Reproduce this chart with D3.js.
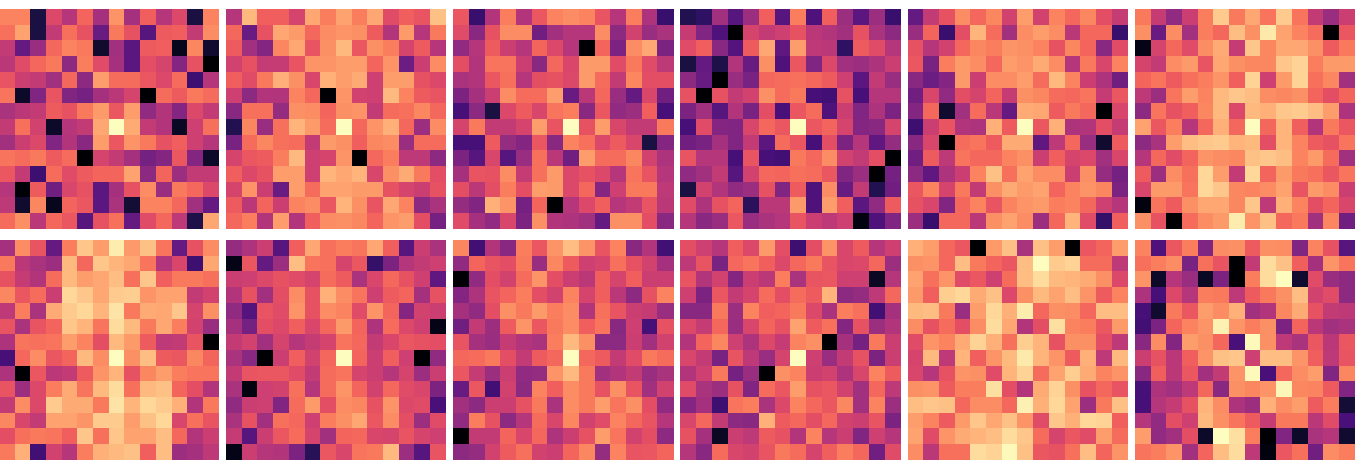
<!DOCTYPE html>
<html>
<head>
<meta charset="utf-8">
<script src="https://cdn.jsdelivr.net/npm/d3@7"></script>
<style>
    html, body { margin: 0; padding: 0; background: #fff; overflow: hidden; }
</style>
</head>
<body>
<script>
// cell values in percent of the colour range
var panel1 = [
    [72,72,10,57,47,65,43,76,43,64,47,57,10,72],
    [68,79,10,50,68,60,28,70,60,24,63,64,50,74],
    [50,27,40,66,72,70,7,42,25,63,64,4,73,7],
    [48,58,66,70,37,71,58,43,25,59,55,35,60,0],
    [61,52,50,42,66,37,78,67,67,62,57,67,18,47],
    [69,6,34,61,34,31,43,48,55,0,67,63,70,67],
    [44,48,50,63,60,70,77,62,78,38,46,35,57,50],
    [50,68,54,6,47,50,80,100,81,50,46,5,53,68],
    [42,52,57,34,46,36,78,62,76,70,60,64,53,47],
    [69,67,70,63,67,0,55,50,43,31,35,62,35,6],
    [62,50,18,67,58,63,65,65,79,37,65,41,50,50],
    [47,1,63,30,56,60,25,43,60,74,40,70,66,57],
    [49,7,73,4,65,62,25,44,8,72,72,66,42,27],
    [67,75,48,66,62,24,60,68,27,58,66,49,11,80]
];
var panel2 = [
    [47,84,64,64,55,80,71,79,71,80,58,64,61,86],
    [66,28,60,80,77,66,74,76,75,63,46,77,47,70],
    [63,42,35,73,80,61,75,84,62,75,71,55,63,47],
    [54,60,51,51,61,76,76,78,78,65,76,29,52,74],
    [64,58,70,82,75,56,82,78,81,53,78,78,60,57],
    [53,37,46,46,72,66,0,76,54,53,84,72,63,61],
    [36,68,68,39,75,74,65,75,76,50,67,68,73,66],
    [12,73,40,68,83,77,67,100,66,76,82,66,41,74],
    [32,67,73,68,67,50,77,75,64,73,74,40,67,67],
    [55,62,63,71,84,53,55,76,0,66,71,49,49,37],
    [64,57,60,78,78,53,83,80,83,56,75,81,70,59],
    [55,76,52,28,78,67,79,79,77,77,60,55,52,60],
    [63,48,65,52,72,74,62,83,75,61,80,72,37,44],
    [66,71,46,78,46,64,74,75,73,65,76,78,59,31]
];
var panel3 = [
    [62,17,46,71,46,62,72,74,72,61,47,71,45,17],
    [58,36,60,74,74,30,42,47,47,74,37,54,40,44],
    [38,47,63,52,47,65,57,47,0,65,33,74,80,33],
    [59,46,69,69,52,36,66,56,77,77,58,70,58,49],
    [44,46,62,68,47,59,60,57,77,67,50,73,59,59],
    [33,43,52,74,67,67,78,28,48,66,40,27,56,30],
    [20,37,10,57,63,56,69,71,36,62,38,41,64,20],
    [55,70,50,50,55,78,61,100,60,78,56,50,50,70],
    [20,20,63,39,35,62,36,72,68,57,63,56,10,35],
    [33,24,56,24,40,68,48,30,78,67,67,73,54,45],
    [43,61,60,74,51,68,77,57,60,57,47,69,61,47],
    [59,48,59,71,59,78,77,57,66,35,53,70,70,49],
    [39,34,82,76,31,65,0,47,57,64,47,50,61,48],
    [58,43,38,56,33,75,46,45,42,27,75,75,59,36]
];
var panel4 = [
    [12,15,42,24,41,64,24,71,22,64,41,25,41,17],
    [51,34,22,0,55,50,53,60,48,46,42,60,44,37],
    [58,64,36,23,63,80,26,78,49,48,15,63,58,47],
    [10,27,11,46,28,75,22,62,34,57,42,41,45,52],
    [37,28,0,40,32,66,67,68,66,63,53,25,50,40],
    [60,0,60,50,54,75,67,70,20,19,60,20,47,47],
    [33,42,24,46,32,59,21,62,67,22,52,34,45,33],
    [20,58,35,34,56,66,62,100,62,65,55,35,36,55],
    [30,32,43,34,50,25,67,62,20,59,33,47,26,39],
    [61,47,47,20,61,20,19,70,66,74,54,50,59,0],
    [38,42,50,24,54,66,65,68,67,62,34,41,0,31],
    [10,54,46,38,41,60,34,63,22,74,28,50,12,30],
    [58,45,60,65,14,48,48,77,22,78,64,25,38,63],
    [47,36,40,62,40,44,47,61,52,49,53,2,22,34]
];
var panel5 = [
    [27,50,60,74,66,73,54,78,54,72,66,73,59,51],
    [40,65,17,59,83,67,42,74,78,74,48,66,66,17],
    [60,47,54,66,73,71,76,75,72,60,73,65,36,58],
    [62,32,71,77,74,66,78,76,81,74,47,70,56,72],
    [36,29,35,77,52,74,74,78,67,84,72,52,45,30],
    [30,56,38,59,55,65,51,75,73,67,66,69,51,62],
    [35,66,7,42,67,48,27,81,80,63,70,66,0,56],
    [18,52,61,46,45,82,63,100,62,82,45,46,59,51],
    [36,56,0,67,69,63,81,81,26,49,66,40,7,63],
    [30,63,49,69,66,66,72,75,52,64,55,57,42,56],
    [37,26,45,52,72,86,68,79,74,74,52,75,39,31],
    [62,72,55,70,50,75,81,77,79,65,72,76,73,33],
    [60,56,34,66,72,61,72,76,77,71,72,66,53,47],
    [41,17,66,66,48,75,79,74,41,66,83,58,16,64]
];
var panel6 = [
    [70,51,38,52,71,88,70,80,69,88,69,50,40,52],
    [75,28,74,42,71,66,85,75,95,79,72,67,0,62],
    [3,55,66,58,74,81,51,87,73,80,80,75,63,70],
    [55,50,74,77,61,80,75,73,73,87,90,71,77,77],
    [65,69,63,68,71,76,64,90,53,77,90,68,73,42],
    [49,41,69,78,72,84,87,85,74,73,75,65,59,65],
    [37,69,60,64,73,84,57,84,82,87,88,85,78,45],
    [79,62,71,47,66,82,66,100,66,83,64,46,70,62],
    [37,44,78,85,87,88,83,84,59,83,72,63,60,69],
    [47,66,58,65,76,74,73,86,87,85,72,77,67,42],
    [63,41,74,68,91,78,50,91,65,77,70,68,62,69],
    [56,77,77,69,91,87,73,72,74,79,61,77,74,52],
    [2,69,63,75,80,80,73,87,49,82,72,59,65,56],
    [75,60,0,67,74,77,96,76,86,66,70,42,73,30]
];
var panel7 = [
    [43,74,61,27,71,87,78,96,77,86,69,27,60,74],
    [70,48,44,41,84,66,87,83,80,69,46,56,18,80],
    [60,51,46,67,84,78,80,85,68,87,64,70,70,68],
    [73,62,67,52,91,87,80,88,89,76,79,79,50,54],
    [49,71,44,81,88,91,83,94,70,81,80,87,55,75],
    [61,44,61,65,87,83,69,92,84,70,80,71,54,40],
    [45,69,68,69,78,72,59,84,77,63,49,50,61,0],
    [20,66,74,62,65,84,74,100,75,85,63,62,73,65],
    [45,0,62,48,50,63,76,83,60,73,78,71,69,69],
    [61,41,57,71,81,69,84,92,68,84,86,65,59,46],
    [50,74,57,88,81,81,70,94,83,91,88,82,46,70],
    [73,56,50,79,79,76,88,88,78,86,91,56,68,61],
    [59,68,70,69,64,87,68,87,79,79,85,66,46,52],
    [70,82,19,54,47,71,82,84,86,64,85,41,43,49]
];
var panel8 = [
    [39,45,52,24,64,80,68,71,69,80,64,24,52,44],
    [3,62,27,41,85,69,68,55,62,16,33,47,50,53],
    [52,53,57,60,58,55,67,63,44,56,66,60,53,26],
    [46,60,42,59,74,60,82,74,69,53,63,65,43,60],
    [38,23,61,58,76,60,74,72,58,76,65,35,54,52],
    [43,31,59,57,64,56,66,77,65,45,67,57,53,3],
    [50,54,42,55,47,51,55,69,66,50,56,62,60,59],
    [44,36,0,52,64,54,66,100,65,52,64,53,0,38],
    [50,61,62,62,58,50,67,69,55,52,47,55,41,52],
    [44,2,53,54,68,47,67,76,65,54,66,58,56,33],
    [38,52,53,34,67,77,59,74,73,60,76,57,58,21],
    [44,60,42,68,66,53,71,75,80,62,74,59,41,58],
    [51,24,52,62,67,55,42,65,66,56,55,61,55,53],
    [3,52,47,46,33,13,62,56,69,70,84,41,24,61]
];
var panel9 = [
    [73,19,46,36,71,62,76,85,76,61,72,36,46,19],
    [38,65,61,59,70,40,73,63,53,55,68,60,54,43],
    [0,38,59,54,67,76,59,52,48,64,55,64,52,52],
    [35,45,61,65,71,59,54,72,55,64,48,37,60,72],
    [43,38,59,75,70,77,71,74,46,68,61,52,51,40],
    [30,50,41,63,76,62,70,74,64,69,36,53,20,60],
    [61,43,40,51,46,44,71,84,75,37,37,52,42,54],
    [66,67,70,59,50,63,66,100,66,63,50,58,70,67],
    [62,51,41,52,38,39,76,84,70,42,46,50,40,44],
    [28,62,19,54,37,72,64,74,70,60,75,61,42,54],
    [42,37,52,52,60,70,44,74,70,78,69,75,59,38],
    [38,71,60,37,47,67,56,73,54,58,72,66,61,47],
    [0,50,50,65,56,66,45,52,60,78,69,54,59,37],
    [37,39,54,63,68,54,52,65,73,39,72,61,62,65]
];
var panel10 = [
    [59,53,47,64,57,77,59,18,59,76,56,63,47,53],
    [49,61,32,66,69,64,57,66,70,61,56,57,66,41],
    [61,46,54,35,52,48,71,44,61,62,53,53,5,47],
    [53,33,62,50,55,67,59,67,63,83,37,39,49,66],
    [36,36,70,41,72,64,65,70,57,44,71,68,19,43],
    [57,51,66,40,56,65,60,79,63,68,35,60,41,46],
    [46,65,73,53,45,57,51,72,75,0,43,31,70,52],
    [56,50,32,61,49,40,55,100,53,40,50,60,33,52],
    [46,53,70,31,40,0,75,72,52,54,45,56,72,63],
    [58,44,41,60,34,67,62,78,60,62,54,42,66,49],
    [35,43,18,69,71,44,57,72,66,62,73,42,72,41],
    [56,66,50,37,36,82,63,66,59,66,54,52,61,33],
    [60,43,5,52,49,63,60,46,72,47,52,34,53,47],
    [47,36,67,56,54,61,70,67,55,64,71,66,30,58]
];
var panel11 = [
    [82,78,66,62,0,77,86,44,86,78,0,62,65,78],
    [75,76,66,85,70,65,62,85,100,88,90,67,67,49],
    [79,68,76,58,62,53,67,85,92,84,83,81,75,57],
    [77,64,89,91,81,86,57,75,84,79,85,76,63,72],
    [84,85,70,40,78,91,82,96,66,75,74,66,85,85],
    [74,60,67,59,74,92,80,46,59,93,72,71,62,77],
    [58,76,72,81,90,82,68,89,83,60,75,75,59,49],
    [55,84,49,83,64,76,84,95,83,76,63,82,49,84],
    [56,47,60,76,75,58,83,90,67,79,89,81,72,76],
    [75,76,63,71,71,93,59,46,81,90,75,60,66,61],
    [85,87,86,66,74,74,66,97,82,91,79,41,70,86],
    [78,72,63,77,87,80,86,76,58,87,82,91,90,64],
    [79,58,76,81,83,85,92,87,67,55,62,58,78,67],
    [74,48,68,68,92,90,99,86,62,60,68,85,65,76]
];
var panel12 = [
    [72,22,62,71,34,74,75,63,75,74,34,72,60,24],
    [68,71,74,32,68,61,0,50,92,86,64,43,76,69],
    [76,6,47,40,5,33,0,71,92,100,7,58,40,37],
    [45,20,57,47,71,70,49,63,70,75,85,54,58,37],
    [20,7,70,62,78,74,82,42,46,73,81,60,50,49],
    [19,33,65,72,76,97,76,71,75,33,65,48,42,44],
    [36,74,35,78,75,66,21,99,75,49,44,62,48,62],
    [52,60,48,64,76,86,87,53,85,85,76,64,49,61],
    [36,64,48,62,42,50,76,99,21,66,74,78,34,73],
    [20,45,42,49,66,36,75,73,76,98,73,72,63,34],
    [20,47,51,60,83,74,45,41,82,74,78,63,71,8],
    [47,38,59,53,84,75,69,63,51,70,70,48,58,21],
    [78,38,42,59,6,100,93,71,0,34,6,44,47,7],
    [69,71,76,42,65,85,92,49,2,62,68,30,74,71]
];
var panels = [panel1, panel2, panel3, panel4, panel5, panel6,
              panel7, panel8, panel9, panel10, panel11, panel12];

function init() {
    var w = 1370;
    var h = 464;
    var cols = 6;
    var size = 219.8;
    var stepX = 227.2;
    var rowTops = [9, 240];
    var left = -1.2;

    // small gamma, my readings came out a touch too purple in the mid range
    var color = d3.scaleSequentialPow(d3.interpolateMagma).exponent(0.92).domain([0, 100]);

    // same band scale for rows and columns inside a panel
    var cell = d3.scaleBand().domain(d3.range(14)).range([0, size]);

    var svg = d3.select("body")
        .append("svg")
        .attr("width", w)
        .attr("height", h)
        .style("display", "block");

    var panel = svg.selectAll("g.panel")
        .data(panels)
        .enter()
        .append("g")
        .attr("class", "panel")
        .attr("transform", (d, i) => {
            var x = left + (i % cols) * stepX;
            var y = rowTops[Math.floor(i / cols)];
            return "translate(" + x + "," + y + ")";
        });

    var row = panel.selectAll("g")
        .data(d => d)
        .enter()
        .append("g")
        .attr("transform", (d, i) => "translate(0," + cell(i) + ")");

    row.selectAll("rect")
        .data(d => d)
        .enter()
        .append("rect")
        .attr("x", (d, i) => cell(i))
        .attr("width", cell.bandwidth() + 0.5)
        .attr("height", cell.bandwidth() + 0.5)
        .attr("fill", d => color(d))
        .attr("shape-rendering", "crispEdges");
}

window.onload = init;
</script>
</body>
</html>
